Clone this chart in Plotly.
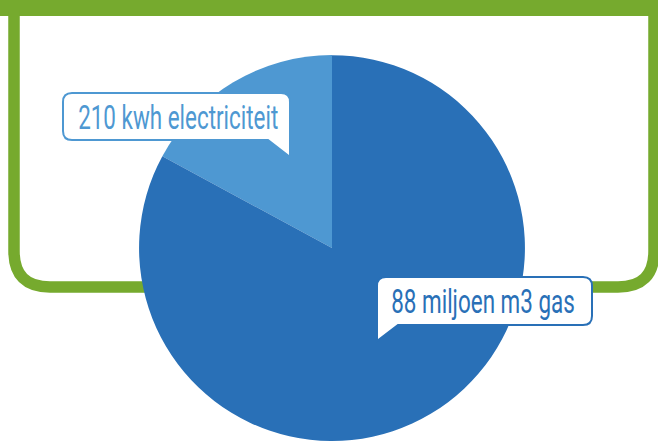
import plotly.graph_objects as go

# Data
labels = ["210 kwh electriciteit", "88 miljoen m3 gas"]
values = [17.1, 82.9]
colors = ["#4E98D2", "#2970B7"]

GREEN = "#76AA2E"
W, H = 658, 441
FONT = "Roboto, Liberation Sans, sans-serif"

fig = go.Figure()

# invisible helper trace so the pixel-like cartesian frame exists
fig.add_trace(go.Scatter(x=[], y=[], hoverinfo="skip", showlegend=False))

# first slice ends at 12 o'clock (lies to the left of it), the rest runs clockwise
start_rot = -360.0 * values[0] / sum(values)
fig.add_trace(go.Pie(
    labels=labels, values=values, sort=False, direction="clockwise",
    rotation=start_rot, marker=dict(colors=colors, line=dict(width=0)),
    textinfo="none", hoverinfo="skip", showlegend=False,
    domain=dict(x=[(332 - 195) / W, (332 + 195) / W], y=[0, 0.875]),
))

shapes = []
# green frame (behind pie)
shapes.append(dict(type="rect", xref="x", yref="y", x0=-5, x1=W + 5, y0=-5, y1=16,
                   fillcolor=GREEN, line=dict(width=0), layer="below"))
R = 36
shapes.append(dict(
    type="path", xref="x", yref="y", layer="below",
    path=(f"M 14,10 L 14,{287 - R} Q 14,287 {14 + R},287 "
          f"L {654 - R},287 Q 654,287 654,{287 - R} L 654,10"),
    line=dict(color=GREEN, width=11.5), fillcolor="rgba(0,0,0,0)"))

# speech bubbles (above pie)
shapes.append(dict(
    type="path", xref="x", yref="y", layer="above",
    path=("M 72,93 L 281,93 Q 290,93 290,102 L 290,157 L 268,140 L 72,140 "
          "Q 63,140 63,131 L 63,102 Q 63,93 72,93 Z"),
    line=dict(color=colors[0], width=2), fillcolor="white"))
shapes.append(dict(
    type="path", xref="x", yref="y", layer="above",
    path=("M 386,277 L 583,277 Q 592,277 592,286 L 592,316 Q 592,325 583,325 "
          "L 398,325 L 377,341 L 377,286 Q 377,277 386,277 Z"),
    line=dict(color=colors[1], width=2), fillcolor="white"))

annotations = [
    dict(x=177.5, y=117, xref="x", yref="y", text=labels[0], showarrow=False,
         font=dict(family=FONT, size=33, color=colors[0]), xanchor="center", yanchor="middle"),
    dict(x=482.5, y=301, xref="x", yref="y", text=labels[1], showarrow=False,
         font=dict(family=FONT, size=33, color=colors[1]), xanchor="center", yanchor="middle"),
]

fig.update_layout(
    width=W, height=H, margin=dict(l=0, r=0, t=0, b=0),
    paper_bgcolor="white", plot_bgcolor="rgba(0,0,0,0)",
    xaxis=dict(range=[0, W], visible=False, domain=[0, 1], fixedrange=True),
    yaxis=dict(range=[H, 0], visible=False, domain=[0, 1], fixedrange=True),
    shapes=shapes, annotations=annotations, showlegend=False,
)

# condensed look of the original typeface: squeeze the label text horizontally
post = """
var st = document.createElement('style');
st.textContent = '.annotation-text { transform-box: fill-box; transform-origin: center; transform: scaleX(0.68); }';
document.head.appendChild(st);
"""

fig.write_html("out.html", post_script=post)
